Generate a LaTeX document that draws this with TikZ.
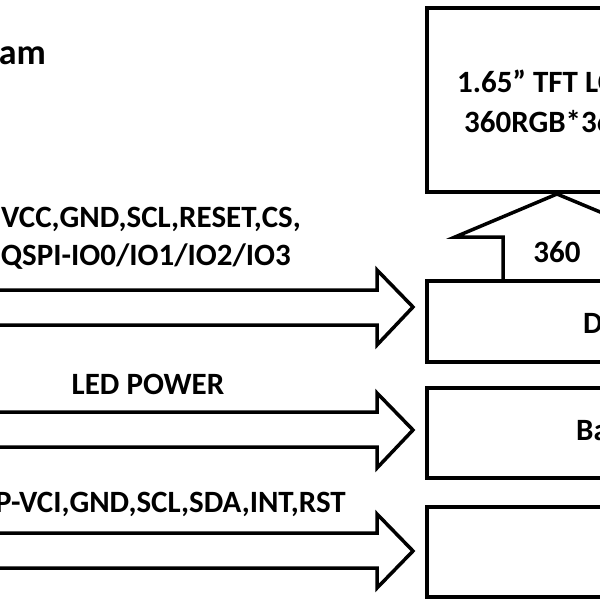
\documentclass[tikz,border=0pt]{standalone}
\usepackage{fontspec}
\setmainfont{Carlito}
\begin{document}
\begin{tikzpicture}[x=1pt,y=-1pt,
  box/.style={draw,line width=3.5pt},
  harrow/.style={draw,line width=3.5pt,line join=miter},
  lbl/.style={font=\fontsize{31}{34}\selectfont\bfseries,inner sep=0pt}]
\useasboundingbox (0,0) rectangle (600,600);
\clip (0,0) rectangle (600,600);
\node[lbl,anchor=east,font=\fontsize{36}{40}\selectfont\bfseries] (title) at (46,55) {Block Diagram};
\draw[box] (427,8) rectangle (640,192);
\node[lbl,anchor=west] (t1) at (457,81) {1.65” TFT LCD};
\node[lbl,anchor=west] (t2) at (464,122) {360RGB*360};
% up arrow
\draw[harrow] (503,281) -- (503,237) -- (455,237) -- (557,194) -- (660,237) -- (612,237) -- (612,281);
\node[lbl] (n360) at (557,252) {360};
\draw[box] (427,281) rectangle (640,362);
\node[lbl,anchor=west] (d) at (583,323) {Driver IC};
\draw[box] (427,388) rectangle (640,478);
\node[lbl,anchor=west] (b) at (576,432) {Backlight};
\draw[box] (427,507) rectangle (640,597);
% horizontal arrows
\draw[harrow] (-10,290) -- (377,290) -- (377,270) -- (413,307) -- (377,345) -- (377,325) -- (-10,325);
\draw[harrow] (-10,412) -- (377,412) -- (377,393) -- (413,430) -- (377,468) -- (377,447) -- (-10,447);
\draw[harrow] (-10,533) -- (377,533) -- (377,514) -- (413,551) -- (377,588) -- (377,568) -- (-10,568);
\node[lbl,anchor=east] (s1) at (301,219) {VCC,GND,SCL,RESET,CS,};
\node[lbl,anchor=east] (s2) at (291,257) {QSPI-IO0/IO1/IO2/IO3};
\node[lbl] (s3) at (148,384) {LED POWER};
\node[lbl,anchor=east] (s4) at (346,504) {CTP-VCI,GND,SCL,SDA,INT,RST};
\end{tikzpicture}
\end{document}
